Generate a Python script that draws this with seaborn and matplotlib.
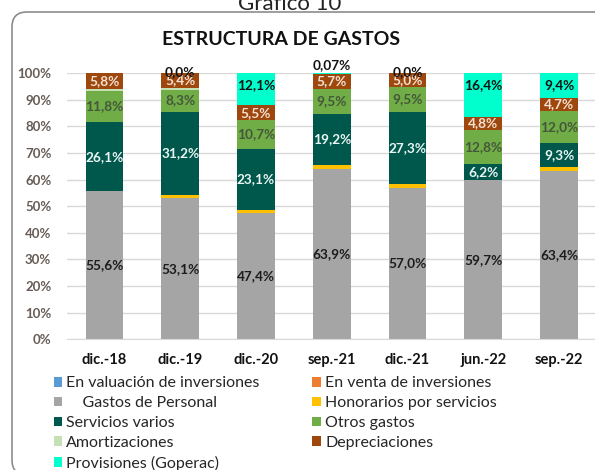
import pandas as pd
import numpy as np
import matplotlib.pyplot as plt
import seaborn as sns
from matplotlib.patches import Patch, FancyBboxPatch

# Data (percent of total expenses)
periods = ["dic.-18", "dic.-19", "dic.-20", "sep.-21", "dic.-21", "jun.-22", "sep.-22"]

valuacion = [0.0, 0.0, 0.0, 0.0, 0.0, 0.0, 0.0]
venta = [0.0, 0.0, 0.0, 0.0, 0.0, 0.0, 0.0]
personal = [55.6, 53.1, 47.4, 63.9, 57.0, 59.7, 63.4]
honorarios = [0.0, 1.3, 1.2, 1.6, 1.2, 0.0, 1.2]
servicios = [26.1, 31.2, 23.1, 19.2, 27.3, 6.2, 9.3]
otros = [11.8, 8.3, 10.7, 9.5, 9.5, 12.8, 12.0]
amortizaciones = [0.7, 0.7, 0.0, 0.0, 0.0, 0.1, 0.0]
depreciaciones = [5.8, 5.4, 5.5, 5.7, 5.0, 4.8, 4.7]
provisiones = [np.nan, 0.0, 12.1, 0.07, 0.0, 16.4, 9.4]  # no value shown for dic.-18

series_names = ["En valuación de inversiones", "En venta de inversiones",
                "Gastos de Personal", "Honorarios por servicios",
                "Servicios varios", "Otros gastos", "Amortizaciones",
                "Depreciaciones", "Provisiones (Goperac)"]
series_values = [valuacion, venta, personal, honorarios, servicios,
                 otros, amortizaciones, depreciaciones, provisiones]
colors = ["#5B9BD5", "#ED7D31", "#A5A5A5", "#FFC000", "#00574B",
          "#70AD47", "#C5E0B4", "#9E480E", "#00FFCC"]

df = pd.DataFrame({name: vals for name, vals in zip(series_names, series_values)})
df["periodo"] = periods

sns.set_style("white")
plt.rcParams["font.family"] = ["Lato", "DejaVu Sans"]

fig = plt.figure(figsize=(5.95, 4.70), dpi=100)
ax = fig.add_axes([0.1119, 0.2781, 0.8914, 0.566])

# stacked bars: draw cumulative totals from the top layer down
cum = df[series_names].fillna(0).cumsum(axis=1)
for name, col in reversed(list(zip(series_names, colors))):
    sns.barplot(x=df["periodo"], y=cum[name], color=col, saturation=1,
                width=0.5, linewidth=0, ax=ax, order=periods)


def fmt(v):
    if v != 0 and v < 0.1:
        return f"{v:.2f}".replace(".", ",") + "%"
    return f"{v:.1f}".replace(".", ",") + "%"


label_style = {
    "Gastos de Personal": "#1c1c1c",
    "Servicios varios": "#eaf6f3",
    "Otros gastos": "#45563a",
    "Depreciaciones": "#f6e2d4",
}
for i, p in enumerate(periods):
    for name, tc in label_style.items():
        v = df.loc[i, name]
        top = cum.loc[i, name]
        ax.text(i, top - v / 2, fmt(v), ha="center", va="center",
                fontsize=9.8, fontweight="bold", color=tc)
    v = df.loc[i, "Provisiones (Goperac)"]
    if np.isnan(v):
        continue
    top = cum.loc[i, "Provisiones (Goperac)"]
    if v == 0:
        y = 100.6
    elif v < 1:
        y = 102.9
    else:
        y = top - 4.6
    ax.text(i, y, fmt(v), ha="center", va="center", fontsize=9.8,
            fontweight="bold", color="#111111", clip_on=False)

ax.set_xlim(-0.5, 6.5)
ax.set_ylim(0, 100)
ax.set_yticks(np.arange(0, 101, 10))
ax.set_yticklabels([f"{t}%" for t in range(0, 101, 10)])
ax.set_xlabel("")
ax.set_ylabel("")
ax.yaxis.grid(True, color="#d9d9d9", linewidth=1)
ax.set_axisbelow(True)
for s in ["top", "right", "left"]:
    ax.spines[s].set_visible(False)
ax.spines["bottom"].set_color("#d9d9d9")
ax.tick_params(axis="y", length=0, pad=11, labelsize=9.5, labelcolor="#665c55")
ax.tick_params(axis="x", length=0, pad=10, labelsize=10.5, labelcolor="#111111")
for lab in ax.get_xticklabels() + ax.get_yticklabels():
    lab.set_fontweight("bold")

fig.text(0.473, 0.915, "ESTRUCTURA DE GASTOS", ha="center", va="center",
         fontsize=14, fontweight="bold", color="#111111")
fig.text(0.487, 0.978, "Gráfico 10", ha="center", va="baseline",
         fontsize=16, color="#222222")

# legend in the same row-major order as the reference (2 columns)
handles = [Patch(facecolor=c, edgecolor="none") for c in colors]
labels = list(series_names)
labels[2] = "    Gastos de Personal"
order = [0, 2, 4, 6, 8, 1, 3, 5, 7]
fig.legend([handles[k] for k in order], [labels[k] for k in order],
           loc="upper left", bbox_to_anchor=(0.09, 0.199), ncol=2,
           frameon=False, fontsize=11.5, handlelength=0.55, handleheight=0.55,
           handletextpad=0.25, labelspacing=0.36, columnspacing=3.3,
           borderaxespad=0, borderpad=0)

frame = FancyBboxPatch((0.12, -0.05), 6.0, 4.63, boxstyle="round,pad=0,rounding_size=0.15",
                       transform=fig.dpi_scale_trans, facecolor="none",
                       edgecolor="#8c8c8c", linewidth=1.2, zorder=10)
fig.patches.append(frame)

fig.savefig("out.png", dpi=100)
